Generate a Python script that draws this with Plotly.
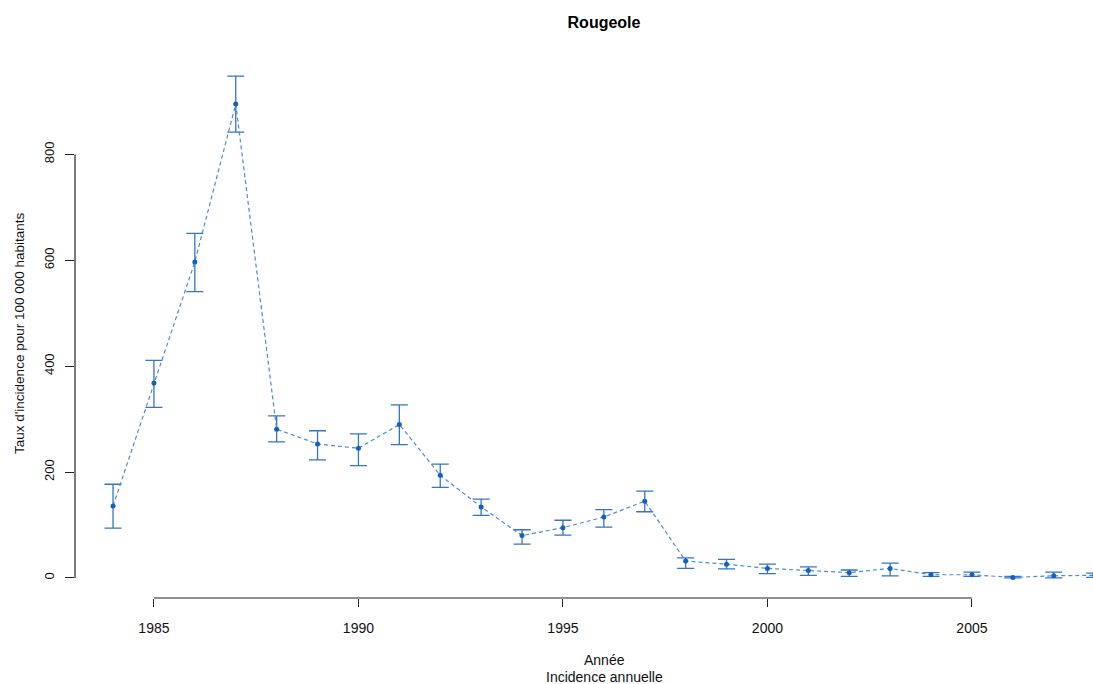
import plotly.graph_objects as go

years = list(range(1984, 2009))
rate = [136, 368, 597, 895, 281, 253, 245, 290, 194, 134, 80, 95, 115, 145,
        32, 26, 18, 14, 10, 18, 6, 6, 1, 4, 5]
upper = [177, 411, 651, 948, 306, 278, 272, 327, 215, 149, 91, 109, 129, 164,
         38, 35, 26, 21, 15, 28, 10, 11, 3, 11, 9]
lower = [94, 322, 541, 842, 257, 223, 212, 252, 171, 118, 64, 81, 96, 125,
         18, 17, 8, 5, 3, 4, 3, 3, 0, 0, 1]

xticks = [1985, 1990, 1995, 2000, 2005]
yticks = [0, 200, 400, 600, 800]

plus = [u - r for u, r in zip(upper, rate)]
minus = [r - l for r, l in zip(rate, lower)]

FONT = "Liberation Sans, Arial, sans-serif"
LINE_COL = "#4f8ad4"
PT_COL = "#1560bd"
ERR_COL = "#3475c4"

fig = go.Figure()
fig.add_trace(go.Scatter(
    x=years, y=rate, mode="lines+markers",
    line=dict(color=LINE_COL, width=1.2, dash="4px,3px"),
    marker=dict(color=PT_COL, size=5),
    error_y=dict(type="data", array=plus, arrayminus=minus, symmetric=False,
                 color=ERR_COL, thickness=1.3, width=8.5),
    showlegend=False,
))

# R-style axis lines spanning tick range only
fig.add_shape(type="line", xref="x", yref="paper", x0=xticks[0], x1=xticks[-1],
              y0=0, y1=0, line=dict(color="#222", width=1.2))
fig.add_shape(type="line", xref="paper", yref="y", x0=0, x1=0,
              y0=yticks[0], y1=yticks[-1], line=dict(color="#222", width=1.2))

fig.update_layout(
    width=1093, height=684,
    margin=dict(l=75, r=0, t=56, b=86),
    paper_bgcolor="white", plot_bgcolor="white",
    font=dict(family=FONT, size=13, color="#111"),
    title=dict(text="<b>Rougeole</b>", x=604/1093, xref="container", xanchor="center",
               y=1-22/684, yref="container", yanchor="middle",
               font=dict(family=FONT, size=16, color="#000")),
    xaxis=dict(range=[1983.07, 2007.96], tickvals=xticks, ticktext=[str(t) for t in xticks],
               showgrid=False, zeroline=False, showline=False,
               ticks="outside", ticklen=8, tickcolor="#222", tickwidth=1.2,
               ticklabelstandoff=9, tickfont=dict(size=14)),
    yaxis=dict(range=[-37.9, 985.9], tickvals=yticks, ticktext=[str(t) for t in yticks],
               showgrid=False, zeroline=False, showline=False,
               ticks="outside", ticklen=9, tickcolor="#222", tickwidth=1.2,
               tickangle=-90, ticklabelstandoff=6, tickfont=dict(size=13)),
    annotations=[
        dict(text="Taux d'incidence pour 100 000 habitants", xref="paper", yref="paper",
             x=0, y=0.5, xshift=-56, yshift=-6, xanchor="center", yanchor="middle",
             textangle=-90, showarrow=False, font=dict(size=13.5)),
        dict(text="Année", xref="paper", yref="paper", x=(604-75)/(1093-75), y=0,
             yshift=-62, xanchor="center", yanchor="middle", showarrow=False,
             font=dict(size=14)),
        dict(text="Incidence annuelle", xref="paper", yref="paper", x=(604-75)/(1093-75), y=0,
             yshift=-79, xanchor="center", yanchor="middle", showarrow=False,
             font=dict(size=14)),
    ],
)

fig.write_html("out.html")
